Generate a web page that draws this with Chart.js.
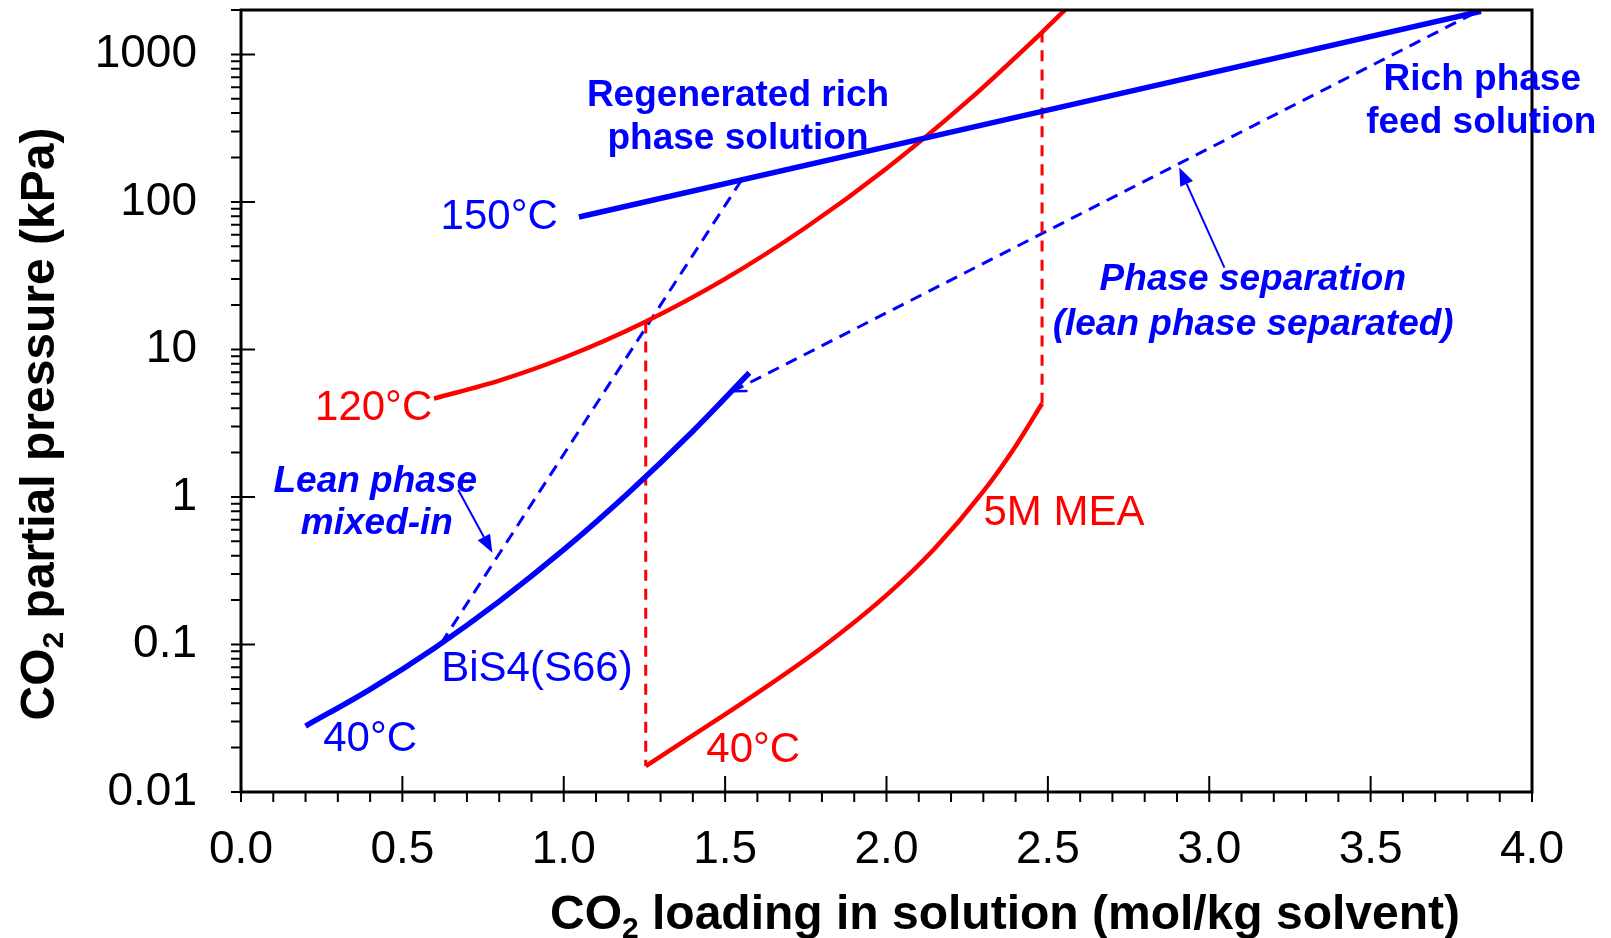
<!DOCTYPE html>
<html>
<head>
<meta charset="utf-8">
<script src="https://cdn.jsdelivr.net/npm/chart.js@4.4.1/dist/chart.umd.min.js"></script>
<style>
  html, body { margin: 0; padding: 0; background: #fff; }
  #wrap { width: 1611px; height: 938px; }
</style>
</head>
<body>
<div id="wrap"><canvas id="chart"></canvas></div>
<script>
// CO2 loading (mol/kg solvent) vs CO2 partial pressure (kPa)
const bis4At40X = [0.20, 0.40, 0.60, 0.80, 1.00, 1.20, 1.40, 1.575];
const bis4At40Y = [0.028, 0.0497, 0.0948, 0.196, 0.439, 1.065, 2.79, 6.95];
const bis4At150X = [1.047, 3.842];
const bis4At150Y = [79, 1960];
const mea120X = [0.598, 0.80, 1.00, 1.25, 1.50, 1.75, 2.00, 2.25, 2.482, 2.553];
const mea120Y = [4.65, 6.15, 8.78, 15.3, 30.1, 67.1, 168.6, 480, 1413, 2000];
const mea40X = [1.254, 1.40, 1.60, 1.80, 2.00, 2.15, 2.30, 2.40, 2.482];
const mea40Y = [0.015, 0.0242, 0.047, 0.0955, 0.216, 0.449, 1.09, 2.21, 4.3];
const meaLeanX = [1.254, 1.254];
const meaLeanY = [15.2, 0.015];
const meaRichX = [2.482, 2.482];
const meaRichY = [4.3, 1413];
const mixInX = [0.62, 1.553];
const mixInY = [0.1016, 143];
const separateX = [1.523, 3.82];
const separateY = [5.2, 1900];

const xTickValues = [0, 0.5, 1, 1.5, 2, 2.5, 3, 3.5, 4];
const xTickLabels = ['0.0', '0.5', '1.0', '1.5', '2.0', '2.5', '3.0', '3.5', '4.0'];
const yTickValues = [0.01, 0.1, 1, 10, 100, 1000];
const yTickLabels = ['0.01', '0.1', '1', '10', '100', '1000'];

const BLUE = '#0000ff';
const RED = '#ff0000';
const FONT = "'Liberation Sans', Arial, sans-serif";

// text labels placed in data coordinates
const labels = [
  { text: 'Regenerated rich', x: 1.54, y: 522, color: BLUE, font: 'bold 37px' },
  { text: 'phase solution', x: 1.54, y: 266, color: BLUE, font: 'bold 37px' },
  { text: '150°C', x: 0.80, y: 78.6, color: BLUE, font: '42px' },
  { text: '120°C', x: 0.411, y: 3.97, color: RED, font: '42px' },
  { text: 'Lean phase', x: 0.416, y: 1.27, color: BLUE, font: 'italic bold 37px' },
  { text: 'mixed-in', x: 0.421, y: 0.658, color: BLUE, font: 'italic bold 37px' },
  { text: 'BiS4(S66)', x: 0.917, y: 0.0673, color: BLUE, font: '42px' },
  { text: '40°C', x: 0.40, y: 0.0226, color: BLUE, font: '42px' },
  { text: '40°C', x: 1.587, y: 0.019, color: RED, font: '42px' },
  { text: '5M MEA', x: 2.55, y: 0.773, color: RED, font: '42px' },
  { text: 'Rich phase', x: 3.846, y: 676, color: BLUE, font: 'bold 37px' },
  { text: 'feed solution', x: 3.843, y: 344, color: BLUE, font: 'bold 37px' },
  { text: 'Phase separation', x: 3.135, y: 29.5, color: BLUE, font: 'italic bold 37px' },
  { text: '(lean phase separated)', x: 3.136, y: 14.8, color: BLUE, font: 'italic bold 37px' }
];

// pointer arrows: from tail to tip, data coordinates
const pointers = [
  { x0: 0.673, y0: 1.12, x1: 0.779, y1: 0.418 },
  { x0: 3.047, y0: 35.9, x1: 2.907, y1: 171 }
];

function pts(xs, ys) {
  return xs.map((v, i) => ({ x: v, y: ys[i] }));
}

function line(data, color, width, dash) {
  return {
    data: data,
    showLine: true,
    borderColor: color,
    borderWidth: width,
    borderDash: dash || [],
    pointRadius: 0,
    fill: false,
    cubicInterpolationMode: 'monotone'
  };
}

const decorations = {
  id: 'decorations',
  afterDatasetsDraw(chart) {
    const { ctx, chartArea: a, scales } = chart;
    const px = v => scales.x.getPixelForValue(v);
    const py = v => scales.y.getPixelForValue(v);
    ctx.save();

    // frame
    ctx.strokeStyle = '#000';
    ctx.lineWidth = 3;
    ctx.strokeRect(a.left, a.top, a.right - a.left, a.bottom - a.top);

    // y ticks: minor outside, decades inside
    ctx.lineWidth = 2;
    ctx.beginPath();
    for (let e = -2; e <= 3; e++) {
      for (let k = 1; k <= 9; k++) {
        const v = k * Math.pow(10, e);
        if (v > 2000) break;
        const yy = py(v);
        ctx.moveTo(a.left - 10, yy);
        ctx.lineTo(a.left, yy);
      }
    }
    yTickValues.slice(1).forEach(v => {
      ctx.moveTo(a.left, py(v));
      ctx.lineTo(a.left + 14, py(v));
    });
    // x ticks: every 0.1 outside, every 0.5 inside
    for (let i = 0; i <= 40; i++) {
      const xx = px(i / 10);
      ctx.moveTo(xx, a.bottom);
      ctx.lineTo(xx, a.bottom + 10);
    }
    xTickValues.slice(1, -1).forEach(v => {
      ctx.moveTo(px(v), a.bottom);
      ctx.lineTo(px(v), a.bottom - 16);
    });
    ctx.stroke();

    // tick labels
    ctx.fillStyle = '#000';
    ctx.font = '46px ' + FONT;
    ctx.textBaseline = 'middle';
    ctx.textAlign = 'right';
    yTickValues.forEach((v, i) => ctx.fillText(yTickLabels[i], a.left - 44, py(v)));
    ctx.textAlign = 'center';
    xTickValues.forEach((v, i) => ctx.fillText(xTickLabels[i], px(v), a.bottom + 58));

    // axis titles with subscript
    const titleParts = rest => [
      ['CO', 'bold 48px ' + FONT, 0],
      ['2', 'bold 30px ' + FONT, 9],
      [rest, 'bold 48px ' + FONT, 0]
    ];
    function drawTitle(parts, cx, cy, rot) {
      ctx.save();
      ctx.translate(cx, cy);
      ctx.rotate(rot);
      ctx.textAlign = 'left';
      ctx.textBaseline = 'alphabetic';
      let w = 0;
      parts.forEach(p => { ctx.font = p[1]; w += ctx.measureText(p[0]).width; });
      let xx = -w / 2;
      parts.forEach(p => {
        ctx.font = p[1];
        ctx.fillText(p[0], xx, 17 + p[2]);
        xx += ctx.measureText(p[0]).width;
      });
      ctx.restore();
    }
    drawTitle(titleParts(' partial pressure (kPa)'), 37, 424, -Math.PI / 2);
    drawTitle(titleParts(' loading in solution (mol/kg solvent)'), 1005, 912, 0);

    // annotation text
    ctx.textAlign = 'center';
    ctx.textBaseline = 'middle';
    labels.forEach(l => {
      ctx.fillStyle = l.color;
      ctx.font = l.font + ' ' + FONT;
      ctx.fillText(l.text, px(l.x), py(l.y));
    });

    // pointer arrows with filled heads
    ctx.strokeStyle = BLUE;
    ctx.fillStyle = BLUE;
    ctx.lineWidth = 2;
    pointers.forEach(p => {
      const x0 = px(p.x0), y0 = py(p.y0), x1 = px(p.x1), y1 = py(p.y1);
      const ang = Math.atan2(y1 - y0, x1 - x0);
      const hl = 18, hw = 7;
      const bx = x1 - hl * Math.cos(ang), by = y1 - hl * Math.sin(ang);
      ctx.beginPath();
      ctx.moveTo(x0, y0);
      ctx.lineTo(bx, by);
      ctx.stroke();
      ctx.beginPath();
      ctx.moveTo(x1, y1);
      ctx.lineTo(bx + hw * Math.sin(ang), by - hw * Math.cos(ang));
      ctx.lineTo(bx - hw * Math.sin(ang), by + hw * Math.cos(ang));
      ctx.closePath();
      ctx.fill();
    });

    // open arrowhead at the lean end of the separation line
    {
      const x1 = px(separateX[0]), y1 = py(separateY[0]);
      const x2 = px(separateX[1]), y2 = py(separateY[1]);
      const ang = Math.atan2(y1 - y2, x1 - x2);
      ctx.lineWidth = 2.5;
      ctx.beginPath();
      [0.45, -0.45].forEach(d => {
        ctx.moveTo(x1, y1);
        ctx.lineTo(x1 - 15 * Math.cos(ang + d), y1 - 15 * Math.sin(ang + d));
      });
      ctx.stroke();
    }
    ctx.restore();
  }
};

new Chart(document.getElementById('chart'), {
  type: 'scatter',
  data: {
    datasets: [
      line(pts(bis4At150X, bis4At150Y), BLUE, 5.5),
      line(pts(bis4At40X, bis4At40Y), BLUE, 5.5),
      line(pts(mea120X, mea120Y), RED, 4.5),
      line(pts(mea40X, mea40Y), RED, 4.5),
      line(pts(meaLeanX, meaLeanY), RED, 3, [11, 8]),
      line(pts(meaRichX, meaRichY), RED, 3, [11, 8]),
      line(pts(mixInX, mixInY), BLUE, 3, [12, 8]),
      line(pts(separateX, separateY), BLUE, 3, [12, 8])
    ]
  },
  options: {
    responsive: true,
    maintainAspectRatio: false,
    devicePixelRatio: 1,
    animation: false,
    layout: { padding: { top: 10, right: 79, left: 0, bottom: 0 } },
    plugins: { legend: { display: false }, tooltip: { enabled: false } },
    scales: {
      x: {
        type: 'linear', min: 0, max: 4,
        grid: { display: false, drawTicks: false },
        border: { display: false },
        ticks: { display: false },
        afterFit: s => { s.height = 146; }
      },
      y: {
        type: 'logarithmic', min: 0.01, max: 2000,
        grid: { display: false, drawTicks: false },
        border: { display: false },
        ticks: { display: false },
        afterFit: s => { s.width = 241; }
      }
    }
  },
  plugins: [decorations]
});
</script>
</body>
</html>
